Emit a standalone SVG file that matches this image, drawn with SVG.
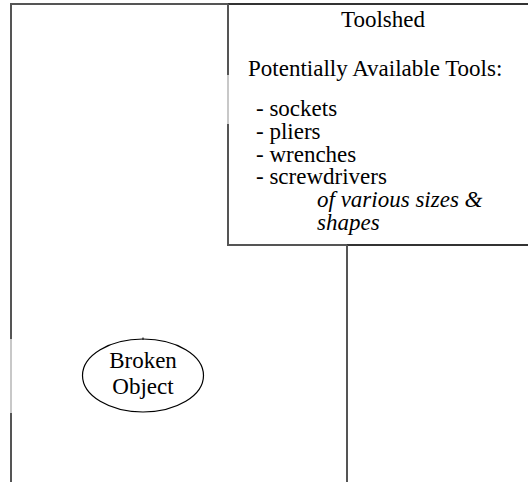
<svg xmlns="http://www.w3.org/2000/svg" width="528" height="482" viewBox="0 0 528 482">
<style>
.frame{fill:none;stroke:#555;stroke-width:2}
.dark{fill:none;stroke:#333;stroke-width:2}
.faint{fill:none;stroke:#c8c8c8;stroke-width:2}
.t{font-family:"Liberation Serif","Times New Roman",serif;font-size:23px;fill:#000}
.i{font-style:italic}
</style>
<rect width="528" height="482" fill="#fff"/>
<g id="frame">
<path class="frame" d="M11,482 V4 H228"/>
<path class="faint" d="M11,339 V413"/>
</g>
<g id="toolshed">
<path class="dark" d="M228,4 H530"/>
<path class="frame" d="M228,4 V245 H347"/>
<path class="dark" d="M347,245 H530"/>
<path class="faint" d="M228,75 V124"/>
<text class="t" x="383" y="27" text-anchor="middle">Toolshed</text>
<text class="t" x="248" y="76">Potentially Available Tools:</text>
<text class="t" x="256" y="116">- sockets</text>
<text class="t" x="256" y="138.8">- pliers</text>
<text class="t" x="256" y="161.6">- wrenches</text>
<text class="t" x="256" y="184.4">- screwdrivers</text>
<text class="t i" x="317" y="207.2">of various sizes &amp;</text>
<text class="t i" x="317" y="230">shapes</text>
</g>
<g id="broken-object">
<ellipse cx="143" cy="375.5" rx="60.5" ry="36.5" fill="none" stroke="#000" stroke-width="1.2"/>
<text class="t" x="143" y="367.5" text-anchor="middle">Broken</text>
<text class="t" x="143" y="393.5" text-anchor="middle">Object</text>
</g>
<g id="connectors">
<path class="frame" d="M347,245 V482"/>
<path fill="none" stroke="#000" stroke-width="1" d="M143,337.5 V340"/>
</g>
</svg>
